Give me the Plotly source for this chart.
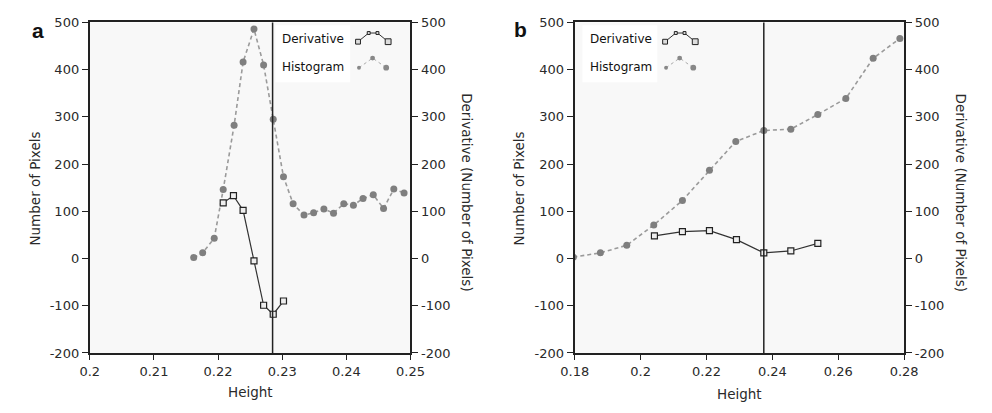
import plotly.graph_objects as go

W, H = 992, 413

# ---------------- data (panel a) ----------------
a_hist_x = [0.2162, 0.2176, 0.2194, 0.2208, 0.2225, 0.2239, 0.2256, 0.2271, 0.2286, 0.2302,
            0.2317, 0.2334, 0.2349, 0.2365, 0.2380, 0.2396, 0.2411, 0.2426, 0.2442, 0.2458,
            0.2474, 0.2490]
a_hist_y = [2, 12, 43, 146, 282, 416, 486, 410, 295, 173,
            116, 92, 97, 105, 96, 116, 113, 127, 135, 106,
            147, 139]
a_deriv_x = [0.2208, 0.2224, 0.2239, 0.2256, 0.2271, 0.2286, 0.2302]
a_deriv_y = [118, 133, 102, -5, -99, -118, -90]
a_cut = 0.2285

# ---------------- data (panel b) ----------------
b_hist_x = [0.1796, 0.1878, 0.1958, 0.2040, 0.2127, 0.2209, 0.2289, 0.2374, 0.2456, 0.2538,
            0.2623, 0.2706, 0.2787]
b_hist_y = [3, 12, 28, 71, 123, 187, 248, 271, 274, 305, 339, 424, 466]
b_deriv_x = [0.2042, 0.2127, 0.2209, 0.2291, 0.2374, 0.2456, 0.2538]
b_deriv_y = [48, 57, 59, 40, 12, 16, 32]
b_cut = 0.2374

y_ticks = [-200, -100, 0, 100, 200, 300, 400, 500]
y_ticktext = ["-200", "-100", "0", "100", "200", "300", "400", "500"]
a_xticks = [0.2, 0.21, 0.22, 0.23, 0.24, 0.25]
a_xticktext = ["0.2", "0.21", "0.22", "0.23", "0.24", "0.25"]
b_xticks = [0.18, 0.2, 0.22, 0.24, 0.26, 0.28]
b_xticktext = ["0.18", "0.2", "0.22", "0.24", "0.26", "0.28"]

y_range = [-200, 500]
a_xrange = [0.2, 0.25]
b_xrange = [0.18, 0.28]

FONT = "DejaVu Sans"
TXT = "#2a2a2a"
AX = "#222222"

def px(x):
    return x / W

def py(y):
    return 1 - y / H

fig = go.Figure()

hist_style = dict(mode="lines+markers",
                  line=dict(color="#9a9a9a", width=1.6, dash="4px,3px"),
                  marker=dict(symbol="circle", size=7, color="#7f7f7f"),
                  showlegend=False, cliponaxis=True)
deriv_style = dict(mode="lines+markers",
                   line=dict(color="#333333", width=1.2),
                   marker=dict(symbol="square", size=6, color="#eeeeee",
                               line=dict(color="#222222", width=1.2)),
                   showlegend=False)

fig.add_trace(go.Scatter(x=a_hist_x, y=a_hist_y, xaxis="x", yaxis="y", **hist_style))
fig.add_trace(go.Scatter(x=a_deriv_x, y=a_deriv_y, xaxis="x", yaxis="y2", **deriv_style))
fig.add_trace(go.Scatter(x=b_hist_x, y=b_hist_y, xaxis="x2", yaxis="y3", **hist_style))
fig.add_trace(go.Scatter(x=b_deriv_x, y=b_deriv_y, xaxis="x2", yaxis="y4", **deriv_style))

dom_y = [1 - 359 / H, 1 - 16 / H]
dom_a = [78 / W, 408 / W]
dom_b = [577 / W, 916 / W]

tickfont = dict(family=FONT, size=13, color=TXT)

def xax(dom, rng, tv, tt, anchor):
    return dict(domain=dom, range=rng, tickmode="array", tickvals=tv, ticktext=tt,
                anchor=anchor,
                showgrid=False, zeroline=False, showline=True, linewidth=2, linecolor=AX,
                mirror=True, ticks="outside", ticklen=5, tickwidth=1, tickcolor=AX,
                tickfont=tickfont)

def yax(anchor, side="left", overlaying=None):
    d = dict(domain=dom_y, range=y_range, tickmode="array", tickvals=y_ticks,
             ticktext=y_ticktext, anchor=anchor, side=side,
             showgrid=False, zeroline=False, showline=True, linewidth=2, linecolor=AX,
             mirror=(side == "left"), ticks="outside", ticklen=6, tickwidth=1.2, tickcolor=AX,
             tickfont=tickfont)
    if overlaying:
        d["overlaying"] = overlaying
    return d

fig.update_layout(
    width=W, height=H,
    margin=dict(l=0, r=0, t=0, b=0),
    paper_bgcolor="white",
    plot_bgcolor="#f8f8f8",
    font=dict(family=FONT, color=TXT),
    xaxis=xax(dom_a, a_xrange, a_xticks, a_xticktext, "y"),
    yaxis=yax("x"),
    yaxis2=yax("x", side="right", overlaying="y"),
    xaxis2=xax(dom_b, b_xrange, b_xticks, b_xticktext, "y3"),
    yaxis3=yax("x2"),
    yaxis4=yax("x2", side="right", overlaying="y3"),
)

shapes = [
    dict(type="line", xref="x", yref="y domain", x0=a_cut, x1=a_cut, y0=0, y1=1,
         line=dict(color=AX, width=1.5)),
    dict(type="line", xref="x2", yref="y3 domain", x0=b_cut, x1=b_cut, y0=0, y1=1,
         line=dict(color=AX, width=1.5)),
]

annotations = []

def ann(text, x, y, size=13.5, angle=0, bold=False, family=FONT):
    annotations.append(dict(text=f"<b>{text}</b>" if bold else text,
                            x=px(x), y=py(y), xref="paper", yref="paper",
                            showarrow=False, textangle=angle,
                            font=dict(family=family, size=size,
                                      color="#111111" if bold else TXT),
                            xanchor="center", yanchor="middle"))

# panel letters
ann("a", 25, 24, size=21, bold=True, family="Liberation Sans")
ann("b", 521, 23, size=21, bold=True, family="Liberation Sans")
# axis titles
ann("Number of Pixels", 22, 188, angle=-90)
ann("Height", 243, 399)
ann("Derivative (Number of Pixels)", 466, 193, angle=90)
ann("Number of Pixels", 520, 188, angle=-90)
ann("Height", 747, 402)
ann("Derivative (Number of Pixels)", 975, 193, angle=90)

# custom legends (text left, glyph right)
def legend(x_text, x_box0, x_box1, x_glyph):
    shapes.append(dict(type="rect", xref="paper", yref="paper",
                       x0=px(x_box0), x1=px(x_box1), y0=py(78), y1=py(19),
                       fillcolor="white", line=dict(width=0), layer="above"))
    for label, yc in (("Derivative", 33), ("Histogram", 62)):
        annotations.append(dict(text=label, x=px(x_text), y=py(yc), xref="paper", yref="paper",
                                showarrow=False, xanchor="left", yanchor="middle",
                                font=dict(family=FONT, size=12, color="#111111")))
    # derivative glyph
    g = x_glyph
    pts = [(g, 36), (g + 11, 27), (g + 20, 27), (g + 31, 36)]
    path = "M " + " L ".join(f"{px(a)},{py(b)}" for a, b in pts)
    shapes.append(dict(type="path", xref="paper", yref="paper", path=path,
                       line=dict(color="#333333", width=1), layer="above"))
    for (a, b), s in zip(pts, (2.5, 1.5, 1.5, 3)):
        shapes.append(dict(type="rect", xref="paper", yref="paper",
                           x0=px(a - s), x1=px(a + s), y0=py(b + s), y1=py(b - s),
                           fillcolor="#dddddd", line=dict(color="#222222", width=1),
                           layer="above"))
    # histogram glyph
    hpts = [(g + 1, 63), (g + 15, 53), (g + 29, 63)]
    hpath = "M " + " L ".join(f"{px(a)},{py(b)}" for a, b in hpts)
    shapes.append(dict(type="path", xref="paper", yref="paper", path=hpath,
                       line=dict(color="#aaaaaa", width=1, dash="dot"), layer="above"))
    for (a, b), s in zip(hpts, (2, 2.5, 3)):
        shapes.append(dict(type="circle", xref="paper", yref="paper",
                           x0=px(a - s), x1=px(a + s), y0=py(b + s), y1=py(b - s),
                           fillcolor="#888888", line=dict(width=0), layer="above"))

legend(274, 269, 346, 354)
legend(591, 585, 662, 670)

fig.update_layout(shapes=shapes, annotations=annotations)

fig.write_html("out.html", config={"displayModeBar": False},
               post_script="document.body.style.margin='0';")
